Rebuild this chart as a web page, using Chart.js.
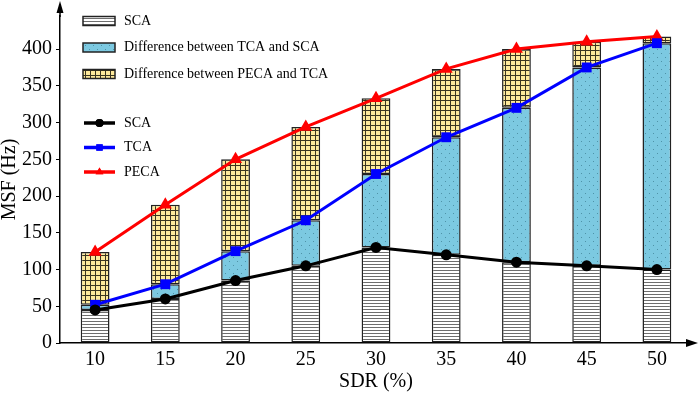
<!DOCTYPE html>
<html>
<head>
<meta charset="utf-8">
<script src="https://cdn.jsdelivr.net/npm/chart.js@4/dist/chart.umd.min.js"></script>
<style>
  html, body { margin: 0; padding: 0; background: #fff; }
  #wrap { width: 700px; height: 393px; }
</style>
</head>
<body>
<div id="wrap"><canvas id="c" width="700" height="393"></canvas></div>
<script>
// ---- data ----
const categories = ['10', '15', '20', '25', '30', '35', '40', '45', '50'];
const scaValues  = [45, 60, 85, 105, 130, 120, 110, 105, 100];
const tcaValues  = [52, 80, 125, 167, 230, 280, 320, 375, 408];
const pecaValues = [124, 188, 250, 294, 333, 373, 400, 410, 417];
const yTicks = [0, 50, 100, 150, 200, 250, 300, 350, 400];
const barLabels = ['SCA', 'Difference between TCA and SCA', 'Difference between PECA and TCA'];
const lineLabels = ['SCA', 'TCA', 'PECA'];

const diffTcaSca = tcaValues.map((v, i) => v - scaValues[i]);
const diffPecaTca = pecaValues.map((v, i) => v - tcaValues[i]);

// ---- patterns ----
function makePattern(w, h, draw) {
  const c = document.createElement('canvas');
  c.width = w; c.height = h;
  const g = c.getContext('2d');
  draw(g);
  return document.getElementById('c').getContext('2d').createPattern(c, 'repeat');
}
const stripePattern = makePattern(4, 3, g => {
  g.fillStyle = '#ffffff'; g.fillRect(0, 0, 4, 3);
  g.fillStyle = '#6e6e6e'; g.fillRect(0, 0, 4, 1);
});
const dotPattern = makePattern(8, 8, g => {
  g.fillStyle = '#7cc9e1'; g.fillRect(0, 0, 8, 8);
  g.fillStyle = '#4f93a8';
  g.fillRect(1, 1, 1, 1);
  g.fillRect(5, 5, 1, 1);
});
const gridPattern = makePattern(5, 5, g => {
  g.fillStyle = '#fde99b'; g.fillRect(0, 0, 5, 5);
  g.fillStyle = '#3a3520';
  g.fillRect(0, 0, 5, 1);
  g.fillRect(0, 0, 1, 5);
});
const barFills = [stripePattern, dotPattern, gridPattern];
const lineColors = ['#000000', '#0000ff', '#ff0000'];
const lineStyles = ['circle', 'rect', 'triangle'];
const lineRadii = [5.5, 7, 7.5];

const FONT = "'Liberation Serif', 'Times New Roman', serif";

// ---- plugins ----
const arrowsPlugin = {
  id: 'arrows',
  afterDraw(chart) {
    const ctx = chart.ctx, a = chart.chartArea;
    ctx.save();
    ctx.strokeStyle = '#000'; ctx.fillStyle = '#000'; ctx.lineWidth = 1.5;
    ctx.beginPath(); ctx.moveTo(a.right - 1, a.bottom); ctx.lineTo(690, a.bottom); ctx.stroke();
    ctx.beginPath(); ctx.moveTo(698, a.bottom); ctx.lineTo(686, a.bottom - 4); ctx.lineTo(686, a.bottom + 4); ctx.closePath(); ctx.fill();
    ctx.beginPath(); ctx.moveTo(a.left, a.top + 1); ctx.lineTo(a.left, 10); ctx.stroke();
    ctx.beginPath(); ctx.moveTo(a.left, 1); ctx.lineTo(a.left - 3.5, 13); ctx.lineTo(a.left + 3.5, 13); ctx.closePath(); ctx.fill();
    ctx.restore();
  }
};

const legendPlugin = {
  id: 'customLegend',
  afterDraw(chart) {
    const ctx = chart.ctx;
    ctx.save();
    ctx.font = '14px ' + FONT;
    ctx.textBaseline = 'middle';
    ctx.fillStyle = '#000';
    const barRows = [21, 47.5, 74];
    barLabels.forEach((lab, i) => {
      const y = barRows[i];
      ctx.fillStyle = barFills[i];
      ctx.fillRect(83, y - 4.5, 32, 9);
      ctx.strokeStyle = '#222'; ctx.lineWidth = 1.5;
      ctx.strokeRect(83, y - 4.5, 32, 9);
      ctx.fillStyle = '#000';
      ctx.fillText(lab, 124, y);
    });
    const lineRows = [123, 147.5, 172];
    lineLabels.forEach((lab, i) => {
      const y = lineRows[i];
      ctx.strokeStyle = lineColors[i]; ctx.lineWidth = 3.5;
      ctx.beginPath(); ctx.moveTo(84, y); ctx.lineTo(115, y); ctx.stroke();
      ctx.fillStyle = lineColors[i];
      Chart.helpers.drawPoint(ctx, { pointStyle: lineStyles[i], radius: i === 0 ? 4 : 4.5, borderWidth: 0, rotation: 0 }, 99.5, y);
      ctx.fill();
      ctx.fillStyle = '#000';
      ctx.fillText(lab, 124, y);
    });
    ctx.restore();
  }
};

// ---- datasets ----
const datasets = [];
[scaValues, tcaValues, pecaValues].forEach((vals, i) => {
  datasets.push({
    type: 'line',
    label: lineLabels[i],
    data: vals,
    yAxisID: 'yL',
    borderColor: lineColors[i],
    backgroundColor: lineColors[i],
    borderWidth: 3,
    pointStyle: lineStyles[i],
    pointRadius: lineRadii[i],
    pointBorderWidth: 0,
    pointBackgroundColor: lineColors[i],
    tension: 0,
    order: 0
  });
});
[scaValues, diffTcaSca, diffPecaTca].forEach((vals, i) => {
  datasets.push({
    type: 'bar',
    label: barLabels[i],
    data: vals,
    yAxisID: 'y',
    backgroundColor: barFills[i],
    borderColor: '#222',
    borderWidth: 1.5,
    borderSkipped: false,
    categoryPercentage: 1,
    barPercentage: 0.41,
    order: 1
  });
});

new Chart(document.getElementById('c'), {
  data: { labels: categories, datasets },
  options: {
    responsive: false,
    animation: false,
    events: [],
    layout: { padding: { top: 8, right: 8, left: 0, bottom: 0 } },
    plugins: { legend: { display: false }, tooltip: { enabled: false } },
    scales: {
      x: {
        stacked: true,
        grid: { display: true, drawOnChartArea: false, drawTicks: false },
        border: { display: true, color: '#000', width: 1.5 },
        ticks: { color: '#000', font: { family: FONT, size: 20 }, padding: 5, maxRotation: 0 },
        title: { display: true, text: 'SDR (%)', color: '#000', font: { family: FONT, size: 20, lineHeight: 1 }, padding: { top: 0, bottom: 1 } },
        afterFit(s) { s.height = 50; }
      },
      y: {
        stacked: true,
        min: 0, max: 445,
        afterBuildTicks(s) { s.ticks = yTicks.map(v => ({ value: v })); },
        grid: { display: true, drawOnChartArea: false, drawTicks: true, tickLength: 4, color: '#000', lineWidth: 1 },
        border: { display: true, color: '#000', width: 1.5 },
        ticks: { color: '#000', font: { family: FONT, size: 20 }, padding: 4 },
        title: { display: true, text: 'MSF (Hz)', color: '#000', font: { family: FONT, size: 20, lineHeight: 1 }, padding: 0 },
        afterFit(s) { s.width = 60; }
      },
      yL: {
        display: false,
        stacked: false,
        min: 0, max: 445
      }
    }
  },
  plugins: [arrowsPlugin, legendPlugin]
});
</script>
</body>
</html>
